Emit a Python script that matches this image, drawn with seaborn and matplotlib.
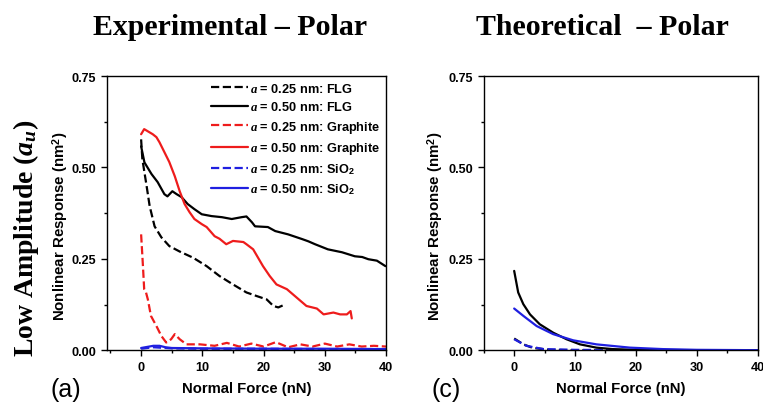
import numpy as np
import pandas as pd
import seaborn as sns
import matplotlib.pyplot as plt
from matplotlib.ticker import MultipleLocator

# ---- data ----
# experimental panel
flg25_x = [0, 0.2, 0.9, 1.4, 2.2, 3.3, 4.6, 6.3, 8.5, 10.7, 12.8, 15, 17.2, 18.9, 20.5, 21.6, 22.4, 23.2]
flg25_y = [0.577, 0.523, 0.449, 0.394, 0.339, 0.309, 0.285, 0.27, 0.253, 0.23, 0.203, 0.18, 0.158,
           0.148, 0.139, 0.121, 0.117, 0.123]

flg50_x = [0, 0.54, 1.7, 2.7, 3.8, 4.3, 5.1, 5.8, 6.6, 7.6, 8.7, 9.9, 11.5, 13.2, 14.8, 16.4, 17.2,
           18.1, 18.6, 20.7, 21.9, 24.0, 26.3, 27.3, 28.4, 30.5, 32.8, 34.9, 36.1, 37.1, 38.5, 39.9]
flg50_y = [0.558, 0.514, 0.482, 0.46, 0.427, 0.421, 0.435, 0.427, 0.419, 0.40, 0.386, 0.372, 0.367,
           0.364, 0.359, 0.364, 0.366, 0.350, 0.339, 0.337, 0.326, 0.317, 0.304, 0.298, 0.29, 0.276,
           0.268, 0.257, 0.255, 0.249, 0.245, 0.23]

gr25_x = [0, 0.3, 0.5, 0.8, 1.1, 1.6, 2.5, 3.3, 4.1, 4.9, 5.5, 6.3, 7.4, 9.6, 12, 14, 16, 18, 20,
          22, 24, 26, 28, 30, 32, 34, 36, 38, 40]
gr25_y = [0.317, 0.23, 0.167, 0.158, 0.139, 0.094, 0.066, 0.039, 0.021, 0.03, 0.044, 0.03, 0.016, 0.016,
          0.012, 0.02, 0.01, 0.018, 0.01, 0.022, 0.008, 0.016, 0.01, 0.018, 0.01, 0.016, 0.01, 0.012, 0.01]

gr50_x = [0, 0.5, 1.0, 1.9, 2.5, 3.0, 3.8, 4.6, 5.5, 6.3, 7.1, 7.9, 8.7, 9.9, 10.7, 12, 12.8, 13.9,
          15, 16.7, 17.2, 18.3, 19.9, 21, 22.1, 23.8, 25.4, 27, 28.7, 29.8, 31.4, 32.5, 33.6, 34.2, 34.4]
gr50_y = [0.591, 0.605, 0.6, 0.591, 0.583, 0.569, 0.542, 0.515, 0.476, 0.435, 0.40, 0.378, 0.359,
          0.345, 0.337, 0.312, 0.305, 0.29, 0.299, 0.296, 0.29, 0.276, 0.23, 0.203, 0.18, 0.167,
          0.144, 0.121, 0.114, 0.098, 0.103, 0.098, 0.098, 0.107, 0.087]

si25_x = [0, 1, 2, 3, 5, 10, 20, 30, 40]
si25_y = [0.004, 0.006, 0.008, 0.007, 0.005, 0.004, 0.004, 0.003, 0.003]
si50_x = [0, 1, 2, 3, 4, 5, 10, 20, 30, 40]
si50_y = [0.006, 0.009, 0.012, 0.012, 0.008, 0.006, 0.005, 0.004, 0.004, 0.003]

# theoretical panel
th_flg50_x = [0, 0.66, 1.5, 2.6, 4.2, 6.4, 8.6, 10.8, 13.5, 16.2, 20, 30, 40]
th_flg50_y = [0.217, 0.158, 0.126, 0.098, 0.071, 0.048, 0.03, 0.016, 0.007, 0.003, 0.001, 0.0, 0.0]
th_si50_x = [0, 1.5, 3.7, 6.4, 9.7, 13.5, 19, 24.4, 30, 40]
th_si50_y = [0.114, 0.094, 0.066, 0.044, 0.027, 0.016, 0.007, 0.003, 0.001, 0.0]
th_flg25_x = [0, 1.5, 3.1, 6, 10, 20, 40]
th_flg25_y = [0.032, 0.016, 0.006, 0.001, 0.0, 0.0, 0.0]
th_si25_x = [0, 2, 4.8, 10, 20, 40]
th_si25_y = [0.03, 0.012, 0.003, 0.001, 0.0, 0.0]

labels = [r"$a$ = 0.25 nm: FLG", r"$a$ = 0.50 nm: FLG",
          r"$a$ = 0.25 nm: Graphite", r"$a$ = 0.50 nm: Graphite",
          r"$a$ = 0.25 nm: SiO$_2$", r"$a$ = 0.50 nm: SiO$_2$"]
colors = ["black", "black", "#ee1c1c", "#ee1c1c", "#1f1fe0", "#1f1fe0"]
dashed = [True, False, True, False, True, False]

sns.set_style("ticks")
plt.rcParams['font.family'] = ['Liberation Sans', 'DejaVu Sans']
plt.rcParams['font.weight'] = 'bold'
plt.rcParams['text.color'] = 'black'
plt.rcParams['axes.labelcolor'] = 'black'
plt.rcParams['xtick.color'] = 'black'
plt.rcParams['ytick.color'] = 'black'
plt.rcParams['mathtext.fontset'] = 'custom'
plt.rcParams['mathtext.it'] = 'Liberation Serif:italic:bold'
plt.rcParams['mathtext.rm'] = 'Liberation Sans:bold'
plt.rcParams['mathtext.bf'] = 'Liberation Sans:bold'

fig = plt.figure(figsize=(7.63, 4.06), dpi=100)
ax1 = fig.add_axes([0.140, 0.135, 0.366, 0.675])
ax2 = fig.add_axes([0.634, 0.135, 0.359, 0.675])


def draw(ax, xs, ys, color, dash, label=None):
    df = pd.DataFrame({"x": xs, "y": ys})
    sns.lineplot(data=df, x="x", y="y", ax=ax, color=color, lw=1.6,
                 linestyle="--" if dash else "-", label=label, sort=False)


exp = [(flg25_x, flg25_y), (flg50_x, flg50_y), (gr25_x, gr25_y),
       (gr50_x, gr50_y), (si25_x, si25_y), (si50_x, si50_y)]
for (xs, ys), c, d, lab in zip(exp, colors, dashed, labels):
    draw(ax1, xs, ys, c, d, lab)

draw(ax2, th_flg25_x, th_flg25_y, "black", True)
draw(ax2, th_si25_x, th_si25_y, "#1f1fe0", True)
draw(ax2, th_flg50_x, th_flg50_y, "black", False)
draw(ax2, th_si50_x, th_si50_y, "#1f1fe0", False)

for ax, x0, lx in [(ax1, -5.6, -0.128), (ax2, -5, -0.136)]:
    ax.set_xlim(x0, 40)
    ax.set_ylim(0, 0.75)
    ax.set_xticks([0, 10, 20, 30, 40])
    ax.set_yticks([0, 0.25, 0.5, 0.75])
    ax.set_yticklabels(["0.00", "0.25", "0.50", "0.75"])
    ax.xaxis.set_minor_locator(MultipleLocator(5))
    ax.yaxis.set_minor_locator(MultipleLocator(0.125))
    ax.tick_params(which="major", direction="out", length=4, width=1, labelsize=9.1)
    ax.tick_params(which="minor", direction="out", length=2.5, width=1)
    for lab in ax.get_xticklabels() + ax.get_yticklabels():
        lab.set_fontweight("bold")
    for s in ax.spines.values():
        s.set_linewidth(1)
        s.set_color("black")
    ax.set_xlabel("Normal Force (nN)", fontsize=10.7, fontweight="bold", labelpad=6)
    ax.set_ylabel(r"Nonlinear Response (nm$^{2}$)", fontsize=10.8, fontweight="bold")
    ax.yaxis.set_label_coords(lx, 0.456)

leg = ax1.legend(loc="upper right", frameon=False, fontsize=9.2, handlelength=2.9,
                 handletextpad=0.2, labelspacing=0.42, borderaxespad=0.05)
for t in leg.get_texts():
    t.set_fontweight("bold")

fig.text(0.301, 0.933, "Experimental – Polar", family="Liberation Serif", weight="bold",
         fontsize=21.5, ha="center", va="center")
fig.text(0.789, 0.933, "Theoretical  – Polar", family="Liberation Serif", weight="bold",
         fontsize=21.5, ha="center", va="center")
fig.text(0.034, 0.414, r"Low Amplitude ($a_u$)", family="Liberation Serif", weight="bold",
         fontsize=20, rotation=90, ha="center", va="center")
fig.text(0.066, 0.04, "(a)", fontsize=18, weight="normal", ha="left", va="center")
fig.text(0.566, 0.04, "(c)", fontsize=18, weight="normal", ha="left", va="center")

fig.savefig("out.png", dpi=100)
